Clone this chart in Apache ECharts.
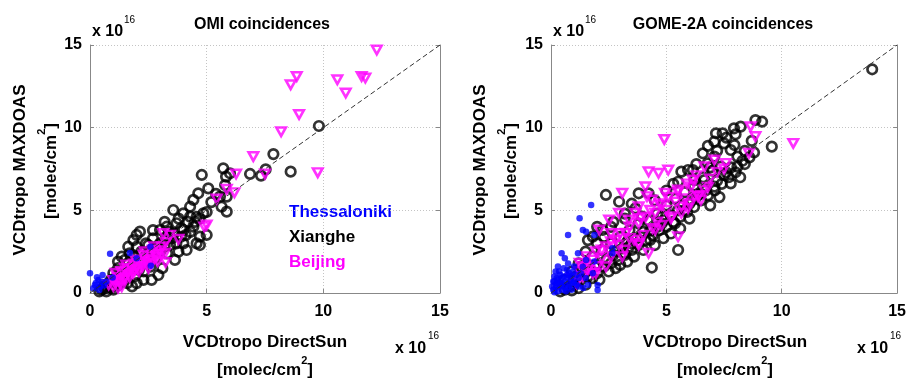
<!DOCTYPE html>
<html>
<head>
<meta charset="utf-8">
<script src="https://cdn.jsdelivr.net/npm/echarts@6/dist/echarts.min.js"></script>
<style>html,body{margin:0;padding:0;background:#fff}#c{width:909px;height:378px}</style>
</head>
<body>
<div id="c"></div>
<script>
// ---- data (units of 1e16 molec/cm^2) ----
var ticks = [0, 5, 10, 15];
var oneToOne = [[0, 0], [15, 15]];

var omiThess = [[0,1.19],[0.86,2.37],[1.71,2.42],[2.0,2.1],[2.59,2.8],[2.61,1.65],[0.97,0.93],[0.54,1.09],[0.36,0.79],[0.21,0.48],[0.43,0.38],[0.14,0.28],[0.5,0.68],[0.3,0.95],[0.25,0.6],[0.6,0.45],[0.4,0.18],[0.7,0.7]];

var omiXiang = [[9.81,10.1],[7.86,8.4],[7.53,7.48],[7.33,7.1],[6.86,7.2],[8.6,7.34],[5.71,7.54],[5.83,7.04],[6.0,7.24],[4.79,7.14],[5.07,6.33],[4.64,6.03],[4.43,5.63],[4.29,5.22],[5.57,5.83],[5.64,5.22],[5.86,4.92],[5.79,6.53],[5.86,5.83],[3.57,5.02],[4.0,4.82],[4.29,4.62],[4.57,4.6],[4.86,4.82],[3.0,3.81],[3.29,4.01],[3.71,4.22],[4.0,3.81],[4.43,4.01],[4.71,3.41],[5.0,3.51],[4.57,3.0],[4.71,2.9],[2.86,2.8],[3.43,2.9],[4.0,3.0],[4.14,2.6],[2.0,3.51],[2.14,3.71],[1.86,3.2],[1.64,2.8],[1.36,2.2],[1.64,1.8],[3.21,3.2],[3.79,2.5],[3.64,2.0],[2.29,0.79],[2.64,0.79],[2.93,1.09],[0.64,0.28],[0.93,0.38],[1.21,0.48],[0.5,0.2],[0.8,0.6],[1.0,1.2],[1.2,1.5],[1.5,1.0],[1.8,1.5],[2.2,2.5],[2.5,2.2],[2.7,3.3],[3.0,3.0],[2.3,1.3],[2.6,1.6],[1.9,2.2],[3.3,2.4],[3.5,3.3],[3.9,3.4],[2.5,2.9],[2.1,1.9],[1.4,0.7],[1.1,0.9],[0.7,0.1],[2.0,0.6],[3.1,1.5],[3.4,3.7],[3.8,4.5],[4.2,4.3],[2.4,3.0],[1.7,2.4],[1.2,1.9],[0.9,0.3],[0.4,0.1],[0.6,0.4],[0.9,0.8],[1.1,0.6],[1.3,1.1],[1.5,1.3],[1.6,0.6],[1.9,1.0],[2.1,1.4],[2.3,1.8],[2.4,2.3],[2.6,2.6],[2.8,2.1],[3.0,2.5],[3.2,2.8],[3.3,3.4],[3.6,3.6],[3.7,3.0],[3.9,3.9],[4.1,3.5],[4.3,3.7],[4.5,4.3],[4.7,4.5],[5.0,4.9],[5.2,5.5],[5.4,6.0],[2.0,2.8],[1.5,2.0],[2.7,3.8],[3.2,4.3],[1.0,0.2],[1.8,0.4]];

var omiBeij = [[12.29,14.7],[8.86,13.1],[8.6,12.6],[10.6,12.9],[10.96,12.1],[11.64,13.1],[11.8,13.0],[8.96,10.8],[8.19,9.75],[7.0,8.25],[6.26,7.2],[7.5,7.2],[9.76,7.28],[6.19,6.07],[5.86,6.27],[5.43,5.69],[5.0,4.11],[4.9,4.0],[3.14,3.6],[3.43,3.5],[3.79,3.25],[3.21,2.4],[3.24,1.85],[2.64,1.8],[1.93,1.39],[1.5,0.89],[1.14,0.68],[1.36,0.38],[1.64,1.39],[2.21,1.8],[0.8,0.5],[1.0,0.75],[1.2,0.95],[1.4,1.1],[1.6,1.25],[1.8,1.45],[2.0,1.6],[2.2,1.9],[2.4,2.05],[2.6,2.2],[2.8,2.35],[3.0,2.55],[1.1,1.2],[1.3,0.6],[1.7,0.95],[2.1,1.3],[2.5,1.5],[2.9,1.9],[1.5,1.5],[1.9,1.75],[2.3,2.3],[2.7,2.6],[3.1,2.8],[1.2,0.3],[1.0,0.4],[1.25,0.75],[1.45,0.8],[1.65,1.1],[1.85,1.2],[2.05,1.45],[2.25,1.6],[2.45,1.75],[2.65,2.0],[2.85,2.15],[3.05,2.35],[1.35,1.3],[1.55,1.7],[1.95,2.0],[2.35,2.5],[2.75,2.8],[3.25,3.05]];

var gomeThess = [[1.74,5.32],[1.24,4.52],[1.38,3.81],[1.52,3.71],[0.74,3.51],[1.88,3.51],[0.46,2.4],[0.6,2.1],[0.74,1.79],[1.17,2.4],[1.52,2.0],[2.66,2.7],[2.66,2.4],[1.88,1.9],[1.38,1.59],[1.81,1.19],[0.95,1.29],[2.02,0.48],[2.02,0.18],[0.1,0.2],[0.2,0.5],[0.3,0.8],[0.15,1.0],[0.4,1.1],[0.5,0.6],[0.6,0.3],[0.7,0.9],[0.8,0.5],[0.9,1.0],[1.0,0.7],[1.1,1.1],[1.2,0.4],[0.3,0.1],[0.5,0.2],[0.2,0.3],[0.4,0.4],[0.6,0.7],[0.8,1.2],[0.35,1.3],[1.3,1.2],[1.5,0.9],[0.25,0.6],[0.45,0.9],[0.65,0.1],[1.6,0.5],[1.0,1.6],[0.55,1.5],[0.15,0.05],[0.9,0.2],[1.1,0.5],[0.7,1.4],[0.3,1.6],[0.2,1.3],[1.4,0.3],[0.1,0.7],[0.85,0.8],[0.05,0.4],[0.25,0.9],[0.45,0.55],[0.75,0.35],[0.95,0.6],[0.35,0.6],[0.55,1.0],[0.15,0.7],[1.2,0.9],[0.7,1.1]];

var gomeXiang = [[13.92,13.53],[9.57,8.85],[9.15,10.36],[8.86,10.46],[8.22,10.06],[7.93,9.96],[7.44,9.66],[7.15,9.66],[7.08,9.15],[7.5,9.05],[7.95,8.95],[7.79,8.65],[8.08,8.25],[8.08,7.64],[7.79,6.63],[6.58,8.45],[7.08,8.25],[6.79,7.84],[7.36,7.64],[7.5,7.14],[7.08,6.43],[6.65,6.83],[5.65,7.34],[5.94,7.44],[6.15,7.44],[6.22,6.83],[5.51,6.73],[5.51,2.6],[4.37,1.54],[4.87,3.31],[4.3,3.21],[4.37,3.81],[5.37,4.21],[5.8,5.02],[3.8,6.03],[4.23,6.03],[2.38,5.93],[2.95,5.52],[1.6,3.2],[1.81,3.41],[2.24,3.81],[3.16,2.4],[3.38,2.8],[3.66,5.12],[3.95,4.62],[4.8,4.62],[1.0,0.5],[1.3,0.8],[1.6,1.0],[2.0,1.2],[2.3,1.6],[2.6,1.8],[2.9,2.0],[3.2,2.3],[3.5,2.6],[3.8,2.9],[4.1,3.2],[4.4,3.5],[4.7,3.8],[5.0,4.0],[5.3,4.3],[5.6,4.6],[5.9,4.9],[6.2,5.2],[6.5,5.6],[6.8,5.9],[7.1,6.2],[7.4,6.6],[7.7,7.0],[8.0,7.3],[8.4,7.8],[8.6,8.2],[0.6,0.2],[0.4,0.1],[0.9,0.15],[1.2,0.3],[1.5,0.5],[1.8,0.9],[2.1,0.8],[2.5,1.3],[2.8,1.5],[3.0,1.7],[3.3,1.9],[3.6,2.2],[4.0,2.6],[1.3,1.6],[1.8,2.2],[2.2,2.6],[2.6,3.0],[3.0,3.4],[3.4,3.8],[3.8,4.2],[4.2,4.4],[4.6,4.8],[5.0,5.3],[5.4,5.7],[5.8,6.1],[6.2,6.5],[6.6,7.0],[7.0,7.4],[6.4,6.0],[5.2,3.6],[4.5,2.9],[6.0,4.5],[5.6,3.9],[6.9,5.3],[7.3,5.8],[8.2,7.0],[8.4,8.6],[8.7,9.2],[8.0,9.6],[7.6,9.4],[2.0,4.0],[2.7,4.3],[3.2,4.8],[6.8,8.9],[1.5,1.3],[1.9,1.6],[2.4,2.0],[2.7,2.3],[3.1,2.7],[3.5,3.0],[3.9,3.4],[4.3,3.8],[4.8,4.2],[5.2,4.7],[5.5,5.0],[6.0,5.4],[6.3,5.8],[6.7,6.2],[7.2,6.8],[7.6,7.3],[2.0,1.7],[2.8,2.5],[3.3,3.1],[4.0,3.7],[4.9,4.4],[5.7,5.3],[6.5,6.0],[1.1,1.0],[0.8,0.4],[1.7,1.4],[3.7,3.3],[4.6,4.0],[6.1,5.6],[7.8,7.6],[8.3,8.0],[8.8,8.5],[7.2,8.6],[6.3,7.8],[6.9,7.6],[5.3,6.6],[5.0,6.2],[4.5,5.6],[3.5,5.4],[3.2,4.5],[2.6,4.0],[2.3,3.4],[2.0,3.0],[1.5,2.5],[1.2,1.8],[0.9,1.3],[0.6,0.8]];

var gomeBeij = [[4.91,9.29],[10.5,9.05],[8.65,10.06],[8.86,9.46],[8.58,8.45],[4.23,7.34],[4.66,7.24],[5.08,7.44],[3.09,6.03],[4.09,6.43],[4.16,5.83],[6.15,6.83],[6.65,7.64],[7.08,8.05],[7.58,7.84],[6.65,6.23],[6.5,5.62],[5.94,5.12],[2.95,4.82],[2.52,4.42],[3.8,5.22],[4.37,5.62],[4.94,6.03],[5.51,6.23],[6.08,6.43],[6.37,5.83],[3.66,4.82],[4.52,4.82],[5.65,4.82],[5.23,4.62],[4.52,3.81],[3.8,3.0],[3.09,2.2],[2.38,1.59],[1.81,1.19],[5.51,3.41],[4.23,2.4],[2.81,3.21],[2.38,2.8],[1.95,2.5],[1.52,2.2],[1.24,1.8],[2.09,3.81],[3.38,4.42],[3.8,4.22],[3.24,3.61],[1.1,0.58],[1.38,0.99],[5.65,5.22],[6.22,5.83],[2.95,2.9],[3.8,2.9],[1.67,1.59],[1.95,1.19],[4.6,4.3],[5.0,5.0],[5.4,5.5],[5.8,5.7],[6.9,6.9],[7.2,7.3],[2.6,3.6],[3.4,3.3],[4.1,4.6],[4.8,5.3],[2.2,2.1],[1.6,1.4],[1.4,1.6],[1.8,2.0],[2.2,2.6],[2.6,3.1],[3.0,3.6],[3.4,4.0],[3.9,4.5],[4.3,5.0],[4.7,5.4],[5.1,5.8],[5.5,6.1],[5.9,6.6],[6.3,7.1],[2.0,1.6],[2.6,2.2],[3.2,2.6],[3.6,3.2],[4.0,3.5],[4.4,3.9],[4.8,4.1],[5.2,4.5],[6.0,5.4],[6.4,5.9],[6.8,6.4],[7.5,7.5],[1.2,1.3],[0.9,0.9]];

// ---- chart ----
var chart = echarts.init(document.getElementById('c'), null, {renderer: 'canvas'});
var FONT = 'Liberation Sans';
var grids = [
  {left: 90, top: 45, width: 350, height: 248},
  {left: 551, top: 45, width: 351, height: 248}
];
function xAx(i) {
  return {gridIndex: i, type: 'value', min: 0, max: 15, interval: 5,
    axisLine: {show: true, onZero: false, lineStyle: {color: '#888', width: 1}},
    axisTick: {show: true, inside: true, length: 4, lineStyle: {color: '#888'}},
    axisLabel: {show: true, margin: 11, color: '#000', fontSize: 16, fontWeight: 'bold', fontFamily: FONT},
    splitLine: {show: true, lineStyle: {color: '#c4c4c4', type: [1, 2], width: 1}}};
}
function yAx(i) {
  return {gridIndex: i, type: 'value', min: 0, max: 15, interval: 5,
    axisLine: {show: true, onZero: false, lineStyle: {color: '#888', width: 1}},
    axisTick: {show: true, inside: true, length: 4, lineStyle: {color: '#888'}},
    axisLabel: {show: true, margin: 8, color: '#000', fontSize: 16, fontWeight: 'bold', fontFamily: FONT},
    splitLine: {show: true, lineStyle: {color: '#c4c4c4', type: [1, 2], width: 1}}};
}
function yRight(i) {
  return {gridIndex: i, type: 'value', position: 'right', min: 0, max: 15, interval: 5,
    axisLine: {show: true, onZero: false, lineStyle: {color: '#888', width: 1}},
    axisTick: {show: true, inside: true, length: 4, lineStyle: {color: '#888'}},
    axisLabel: {show: false}, splitLine: {show: false}};
}
function sc(name, data, gi, kind) {
  var s = {name: name, type: 'scatter', xAxisIndex: gi, yAxisIndex: gi * 2, data: data, silent: true, animation: false};
  if (kind === 'circle') {
    s.symbol = 'circle'; s.symbolSize = 9.5;
    s.itemStyle = {color: 'rgba(0,0,0,0)', borderColor: '#000', borderWidth: 2.7};
  } else if (kind === 'tri') {
    s.symbol = 'triangle'; s.symbolSize = [9.5, 8.5]; s.symbolRotate = 180;
    s.itemStyle = {color: 'rgba(0,0,0,0)', borderColor: '#ff00ff', borderWidth: 2.6};
  } else {
    s.symbol = 'circle'; s.symbolSize = 6.5;
    s.itemStyle = {color: '#0000ff', borderWidth: 0};
  }
  return s;
}
function diag(gi) {
  return {type: 'line', xAxisIndex: gi, yAxisIndex: gi * 2, data: oneToOne, symbol: 'none', silent: true, animation: false,
    lineStyle: {color: '#333', width: 1, type: [5, 3]}, z: 5};
}
var supRich = {
  m: {fontSize: 17, fontWeight: 'bold', fontFamily: FONT, lineHeight: 24, verticalAlign: 'bottom', fill: '#000'},
  s: {fontSize: 11, fontWeight: 'bold', fontFamily: FONT, lineHeight: 12, verticalAlign: 'top', fill: '#000'}
};
function txt(x, y, text, opt) {
  opt = opt || {};
  return {type: 'text', x: x, y: y, rotation: opt.rot || 0, silent: true,
    style: {text: text, fill: opt.color || '#000', font: (opt.weight || 'bold') + ' ' + (opt.size || 17) + 'px ' + FONT,
      textAlign: opt.align || 'center', textVerticalAlign: 'middle', rich: opt.rich}};
}
function panelGraphics(p) {
  var g = [];
  g.push(txt(p.titleX, 25, p.title, {size: 16}));
  g.push(txt(p.left + 2, 32, 'x 10', {size: 16, align: 'left'}));
  g.push(txt(p.left + 34, 20, '16', {size: 10, align: 'left', weight: 'normal'}));
  g.push(txt(p.yl1, 170, 'VCDtropo MAXDOAS', {rot: Math.PI / 2, size: 17}));
  g.push(txt(p.yl2, 171, '{m|[molec/cm}{s|2}{m|]}', {rot: Math.PI / 2, rich: supRich}));
  g.push(txt(p.xlc, 342, 'VCDtropo DirectSun', {size: 17}));
  g.push(txt(p.xlc, 367, '{m|[molec/cm}{s|2}{m|]}', {rich: supRich}));
  g.push(txt(p.right - 45, 349, 'x 10', {size: 16, align: 'left'}));
  g.push(txt(p.right - 12, 336, '16', {size: 10, align: 'left', weight: 'normal'}));
  return g;
}
var graphics = [].concat(
  panelGraphics({title: 'OMI coincidences', titleX: 262, left: 90, right: 440, yl1: 20, yl2: 48, xlc: 265}),
  panelGraphics({title: 'GOME-2A coincidences', titleX: 723, left: 551, right: 902, yl1: 480, yl2: 508, xlc: 725}),
  [txt(289, 212, 'Thessaloniki', {align: 'left', color: '#0000ff'}),
   txt(289, 237, 'Xianghe', {align: 'left', color: '#000'}),
   txt(289, 262, 'Beijing', {align: 'left', color: '#ff00ff'})]
);
chart.setOption({
  animation: false,
  backgroundColor: '#fff',
  grid: grids,
  xAxis: [xAx(0), xAx(1)],
  yAxis: [yAx(0), yRight(0), yAx(1), yRight(1)],
  series: [
    sc('Xianghe', omiXiang, 0, 'circle'), sc('Beijing', omiBeij, 0, 'tri'), sc('Thessaloniki', omiThess, 0, 'dot'), diag(0),
    sc('Xianghe', gomeXiang, 1, 'circle'), sc('Beijing', gomeBeij, 1, 'tri'), sc('Thessaloniki', gomeThess, 1, 'dot'), diag(1)
  ],
  graphic: graphics
});
</script>
</body>
</html>
